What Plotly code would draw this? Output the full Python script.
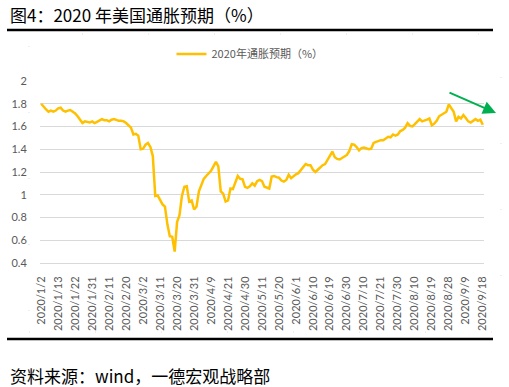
import pandas as pd
import plotly.graph_objects as go

# ---- data ----
holidays = ["2020-04-10", "2020-05-25", "2020-07-03", "2020-09-07"]
trade_days = [d for d in pd.bdate_range("2020-01-02", "2020-09-18") if d.strftime("%Y-%m-%d") not in holidays]
dates = [f"{d.year}/{d.month}/{d.day}" for d in trade_days]

tick_labels = ["2020/1/2", "2020/1/13", "2020/1/22", "2020/1/31", "2020/2/11", "2020/2/20",
               "2020/3/2", "2020/3/11", "2020/3/20", "2020/3/31", "2020/4/9", "2020/4/21",
               "2020/4/30", "2020/5/11", "2020/5/20", "2020/6/1", "2020/6/10", "2020/6/19",
               "2020/6/30", "2020/7/10", "2020/7/21", "2020/7/30", "2020/8/10", "2020/8/19",
               "2020/8/28", "2020/9/9", "2020/9/18"]

inflation_exp = [
    1.80, 1.77, 1.75, 1.73, 1.74, 1.73, 1.74, 1.76, 1.765, 1.74,
    1.73, 1.74, 1.745, 1.73, 1.715, 1.69, 1.66, 1.63, 1.645, 1.64,
    1.635, 1.645, 1.63, 1.64, 1.655, 1.665, 1.655, 1.655, 1.645, 1.66,
    1.665, 1.655, 1.65, 1.65, 1.645, 1.63, 1.61, 1.59, 1.53, 1.535,
    1.52, 1.40, 1.405, 1.44, 1.455, 1.42, 1.34, 0.99, 0.995, 0.955,
    0.915, 0.895, 0.74, 0.635, 0.63, 0.50, 0.76, 0.82, 0.99, 1.07,
    1.075, 0.94, 0.95, 0.87, 0.895, 1.03, 1.08, 1.14, 1.165, 1.185,
    1.21, 1.25, 1.29, 1.25, 1.03, 1.01, 0.94, 0.95, 1.055, 1.05,
    1.11, 1.165, 1.14, 1.135, 1.07, 1.06, 1.075, 1.10, 1.08, 1.12,
    1.13, 1.12, 1.07, 1.06, 1.055, 1.16, 1.165, 1.155, 1.15, 1.125,
    1.115, 1.13, 1.175, 1.145, 1.165, 1.18, 1.19, 1.22, 1.24, 1.27,
    1.26, 1.26, 1.22, 1.20, 1.22, 1.245, 1.26, 1.27, 1.31, 1.34,
    1.38, 1.33, 1.315, 1.31, 1.325, 1.335, 1.35, 1.385, 1.445, 1.44,
    1.42, 1.39, 1.41, 1.415, 1.405, 1.40, 1.405, 1.455, 1.465, 1.475,
    1.48, 1.48, 1.495, 1.51, 1.505, 1.53, 1.52, 1.53, 1.56, 1.57,
    1.59, 1.63, 1.605, 1.60, 1.62, 1.645, 1.665, 1.645, 1.65, 1.66,
    1.67, 1.61, 1.625, 1.65, 1.69, 1.705, 1.715, 1.73, 1.795, 1.765,
    1.73, 1.645, 1.685, 1.67, 1.70, 1.675, 1.645, 1.635, 1.65, 1.665,
    1.65, 1.66, 1.615,
]
assert len(dates) == len(inflation_exp)

series_name = "2020年通胀预期（%）"
title_text = "图4：2020 年美国通胀预期（%）"
source_text = "资料来源：wind，一德宏观战略部"

# ---- layout geometry ----
W, H = 509, 387
L, R, T, B = 40, 25, 81, 124
PW, PH = W - L - R, H - T - B


def px(x):
    return (x - L) / PW


def py(y):
    return (H - B - y) / PH


CJK = "Noto Sans CJK SC, sans-serif"
TICK = "Lato, Noto Sans CJK SC, sans-serif"
GRAY = "#595959"

fig = go.Figure()
fig.add_trace(go.Scatter(
    x=dates, y=inflation_exp, mode="lines", name=series_name,
    line=dict(color="#FFC000", width=2.5, shape="linear"),
))

fig.update_layout(
    width=W, height=H,
    margin=dict(l=L, r=R, t=T, b=B),
    paper_bgcolor="white", plot_bgcolor="white",
    showlegend=True,
    legend=dict(orientation="h", x=px(250), xanchor="center", y=py(54), yanchor="middle",
                font=dict(family=CJK, size=11, color=GRAY), bgcolor="rgba(0,0,0,0)",
                itemwidth=30),
    xaxis=dict(type="category", range=[-0.5, len(dates) - 0.5],
               tickmode="array", tickvals=tick_labels, ticktext=tick_labels,
               tickangle=-90, tickfont=dict(family=TICK, size=11, color=GRAY),
               showgrid=False, showline=True, linecolor="#d9d9d9", linewidth=1,
               ticks="outside", ticklen=8, tickcolor="rgba(0,0,0,0)", zeroline=False),
    yaxis=dict(range=[0.4, 2.0], dtick=0.2, tick0=0.4,
               tickfont=dict(family=TICK, size=11, color=GRAY),
               showgrid=True, gridcolor="#d9d9d9", gridwidth=1,
               showline=False, zeroline=False,
               ticks="outside", ticklen=10, tickcolor="rgba(0,0,0,0)"),
)

# title, separators, source
fig.add_annotation(xref="paper", yref="paper", x=px(8), y=py(15), xanchor="left", yanchor="middle",
                   text=title_text, showarrow=False, font=dict(family=CJK, size=17, color="black"))
fig.add_annotation(xref="paper", yref="paper", x=px(8), y=py(375), xanchor="left", yanchor="middle",
                   text=source_text, showarrow=False, font=dict(family=CJK, size=17, color="black"))
fig.add_shape(type="line", xref="paper", yref="paper", x0=px(7), x1=px(493), y0=py(30), y1=py(30),
              line=dict(color="black", width=2.5))
fig.add_shape(type="line", xref="paper", yref="paper", x0=px(7), x1=px(493), y0=py(339), y1=py(339),
              line=dict(color="black", width=2.5))
# faint chart-area border
fig.add_shape(type="rect", xref="paper", yref="paper", x0=px(29), x1=px(501), y0=py(332), y1=py(34),
              line=dict(color="#dedede", width=1, dash="1px,65px"))

# green trend arrow (tail offset in pixels from the head)
fig.add_annotation(xref="paper", yref="paper", axref="pixel", ayref="pixel",
                   x=px(496), y=py(113), ax=448 - 496, ay=92 - 113,
                   text="", showarrow=True, arrowhead=2, arrowsize=1.3, arrowwidth=2,
                   arrowcolor="#00B050")

fig.write_html("out.html", config={"displayModeBar": False},
               post_script="document.body.style.margin='0';")
